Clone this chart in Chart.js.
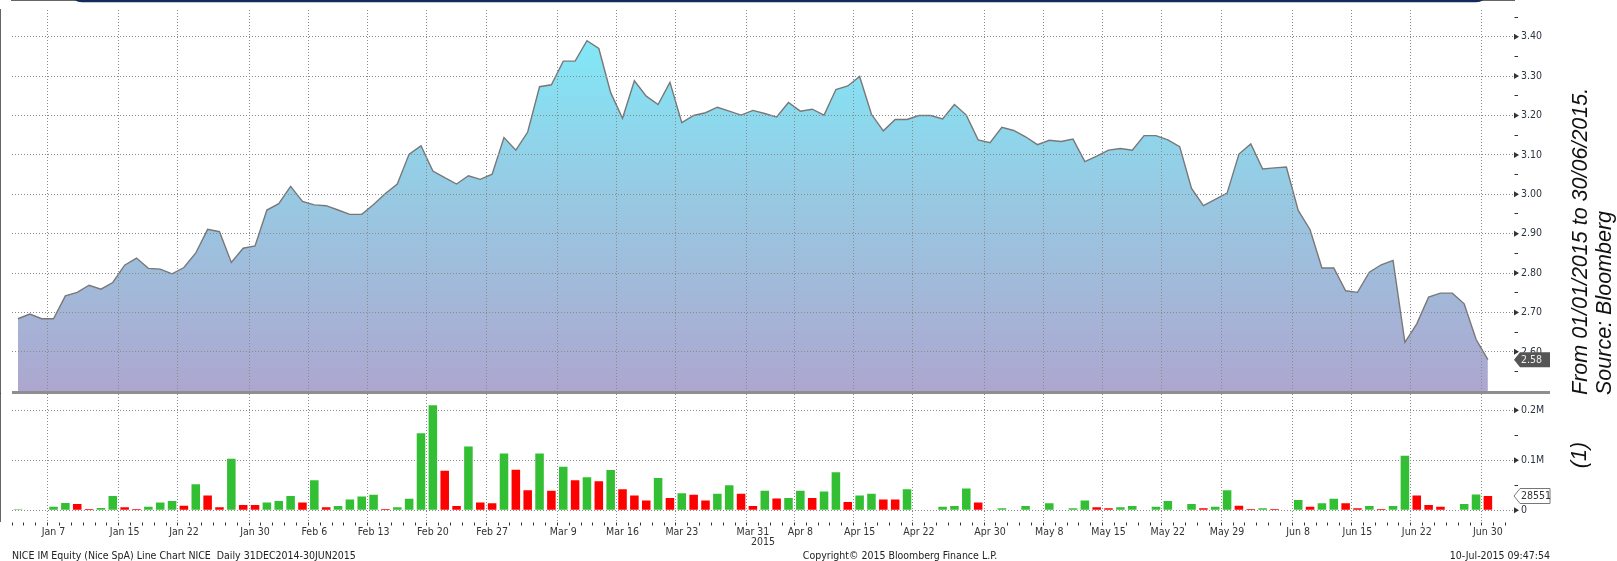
<!DOCTYPE html>
<html>
<head>
<meta charset="utf-8">
<script src="https://cdn.jsdelivr.net/npm/chart.js@4.4.1/dist/chart.umd.min.js"></script>
<style>
  html, body { margin: 0; padding: 0; background: #fff; }
  #wrap { width: 1617px; height: 561px; position: relative; }
</style>
</head>
<body>
<div id="wrap"><canvas id="niceChart" width="1617" height="561"></canvas></div>
<script>
// trading days of Borsa Italiana, 02 Jan 2015 - 30 Jun 2015
const tradingDays = [
  'Jan 2','Jan 5','Jan 6','Jan 7','Jan 8','Jan 9','Jan 12','Jan 13','Jan 14','Jan 15','Jan 16','Jan 19','Jan 20','Jan 21','Jan 22','Jan 23','Jan 26','Jan 27','Jan 28','Jan 29','Jan 30',
  'Feb 2','Feb 3','Feb 4','Feb 5','Feb 6','Feb 9','Feb 10','Feb 11','Feb 12','Feb 13','Feb 16','Feb 17','Feb 18','Feb 19','Feb 20','Feb 23','Feb 24','Feb 25','Feb 26','Feb 27',
  'Mar 2','Mar 3','Mar 4','Mar 5','Mar 6','Mar 9','Mar 10','Mar 11','Mar 12','Mar 13','Mar 16','Mar 17','Mar 18','Mar 19','Mar 20','Mar 23','Mar 24','Mar 25','Mar 26','Mar 27','Mar 30','Mar 31',
  'Apr 1','Apr 2','Apr 7','Apr 8','Apr 9','Apr 10','Apr 13','Apr 14','Apr 15','Apr 16','Apr 17','Apr 20','Apr 21','Apr 22','Apr 23','Apr 24','Apr 27','Apr 28','Apr 29','Apr 30',
  'May 4','May 5','May 6','May 7','May 8','May 11','May 12','May 13','May 14','May 15','May 18','May 19','May 20','May 21','May 22','May 25','May 26','May 27','May 28','May 29',
  'Jun 1','Jun 2','Jun 3','Jun 4','Jun 5','Jun 8','Jun 9','Jun 10','Jun 11','Jun 12','Jun 15','Jun 16','Jun 17','Jun 18','Jun 19','Jun 22','Jun 23','Jun 24','Jun 25','Jun 26','Jun 29','Jun 30'
];

// dates that get a label + vertical grid line
const tickDates = ['Jan 7','Jan 15','Jan 22','Jan 30','Feb 6','Feb 13','Feb 20','Feb 27','Mar 9','Mar 16','Mar 23','Mar 31',
  'Apr 8','Apr 15','Apr 22','Apr 30','May 8','May 15','May 22','May 29','Jun 8','Jun 15','Jun 22','Jun 30'];

// close price (EUR)
const closePrice = [
  2.684,2.696,2.684,2.684,2.742,2.751,2.769,2.759,2.776,2.820,
  2.838,2.812,2.810,2.798,2.814,2.851,2.911,2.905,2.827,2.863,
  2.869,2.960,2.976,3.020,2.982,2.973,2.971,2.960,2.949,2.949,
  2.974,3.002,3.026,3.102,3.123,3.059,3.042,3.026,3.047,3.038,
  3.051,3.144,3.112,3.158,3.273,3.278,3.338,3.338,3.390,3.370,
  3.258,3.193,3.288,3.249,3.228,3.284,3.182,3.200,3.207,3.221,
  3.211,3.201,3.213,3.205,3.196,3.233,3.211,3.216,3.201,3.266,
  3.275,3.299,3.203,3.161,3.190,3.190,3.200,3.200,3.191,3.228,
  3.201,3.138,3.131,3.170,3.162,3.146,3.126,3.137,3.134,3.140,
  3.083,3.097,3.112,3.116,3.112,3.149,3.149,3.138,3.121,3.015,
  2.971,2.987,3.003,3.102,3.128,3.064,3.067,3.069,2.959,2.910,
  2.813,2.813,2.755,2.751,2.802,2.821,2.832,2.624,2.671,2.739,
  2.749,2.749,2.722,2.632,2.580
];

// daily volume (shares)
const volume = [
  2000,1000,1000,7300,14500,12500,2600,4600,28400,5900,
  2600,7300,15800,18500,9200,52100,29700,5900,103000,10600,
  10600,15800,18500,28400,15800,60000,5900,8600,21800,27700,
  31000,2600,5900,23100,153800,210000,79200,8600,127400,15800,
  13900,113500,81200,40300,113500,39000,87100,60000,66000,58100,
  80500,42200,29700,19800,64700,24400,34300,31000,19800,33000,
  50200,33000,8600,39000,23800,24400,39000,24400,37600,75900,
  16500,29700,33000,21800,21800,42200,1000,0,7300,8600,
  43600,15800,1000,4000,1000,8600,1000,13900,1000,4000,
  19800,5900,4000,5900,8600,1000,7300,18500,1000,12500,
  4000,7300,40300,9200,2600,4000,2600,1000,20500,7300,
  13900,23100,13900,4000,8600,2600,8600,109000,29700,10600,
  7300,1000,12500,31700,28551
];

// g = up day, r = down day
const volumeSide = ('grrggrrggr' + 'rgggrgrrgr' + 'rgggrgrggg' + 'grggggrrgr' + 'rgrrgrgrgr' +
  'grrrgrgrrg' + 'grrgrggrgg' + 'rggrrgrggg' + 'grrgrgrgrg' + 'grrggrggrg' +
  'rggrrgrrgr' + 'ggrrgrggrr' + 'rrggr').split('');

const priceTicks = [2.55,2.60,2.65,2.70,2.75,2.80,2.85,2.90,2.95,3.00,3.05,3.10,3.15,3.20,3.25,3.30,3.35,3.40,3.45];
const volumeTicks = [0, 50000, 100000, 150000, 200000];
const volumeTickLabels = ['0', '', '0.1M', '', '0.2M'];

const smallFont = '"DejaVu Sans Condensed", "DejaVu Sans", sans-serif';
const smallSize = 10.5;
const gridColor = '#8a8a8a';
const gridDash = [1, 2];
const axisColor = '#333333';
const isMajorPrice = v => Math.round(v * 100) % 10 === 0;
const isMajorVol = v => volumeTickLabels[volumeTicks.indexOf(v)] !== '';

const decorations = {
  id: 'decorations',
  afterDraw(chart) {
    const {ctx, chartArea, scales} = chart;
    const x = scales.x, yP = scales.yPrice, yV = scales.yVol;
    ctx.save();

    // header frame edge at the very top
    ctx.strokeStyle = '#142a5c';
    ctx.lineWidth = 2.5;
    ctx.beginPath();
    ctx.roundRect(70, -40, 1418, 41, 12);
    ctx.stroke();

    // separator between price and volume panels
    ctx.strokeStyle = '#8e8e8e';
    ctx.lineWidth = 3;
    ctx.beginPath();
    ctx.moveTo(chartArea.left, yP.bottom - 1.5);
    ctx.lineTo(1550, yP.bottom - 1.5);
    ctx.stroke();

    // triangle markers on the major y ticks
    ctx.fillStyle = axisColor;
    const tri = (py) => {
      ctx.beginPath();
      ctx.moveTo(chartArea.right, py - 3);
      ctx.lineTo(chartArea.right + 5, py);
      ctx.lineTo(chartArea.right, py + 3);
      ctx.closePath();
      ctx.fill();
    };
    priceTicks.filter(isMajorPrice).forEach(v => tri(yP.getPixelForValue(v)));
    volumeTicks.filter(isMajorVol).forEach(v => tri(yV.getPixelForValue(v)));

    // last value tags
    const tag = (py, text, fill, stroke, color) => {
      const l = chartArea.right;
      ctx.beginPath();
      ctx.moveTo(l, py);
      ctx.lineTo(l + 6, py - 7.5);
      ctx.lineTo(1550, py - 7.5);
      ctx.lineTo(1550, py + 7.5);
      ctx.lineTo(l + 6, py + 7.5);
      ctx.closePath();
      ctx.fillStyle = fill;
      ctx.fill();
      if (stroke) { ctx.strokeStyle = stroke; ctx.lineWidth = 1; ctx.stroke(); }
      ctx.fillStyle = color;
      ctx.font = smallSize + 'px ' + smallFont;
      ctx.textAlign = 'left';
      ctx.textBaseline = 'middle';
      ctx.fillText(text, l + 7, py + 0.5);
    };
    const lastPrice = closePrice[closePrice.length - 1];
    const lastVolume = volume[volume.length - 1];
    tag(yP.getPixelForValue(lastPrice), lastPrice.toFixed(2), '#555555', null, '#eeeeee');
    tag(yV.getPixelForValue(lastVolume), String(lastVolume), '#ffffff', '#777777', '#333333');

    // year under Mar 31
    ctx.fillStyle = '#333';
    ctx.font = smallSize + 'px ' + smallFont;
    ctx.textAlign = 'center';
    ctx.textBaseline = 'middle';
    ctx.fillText('2015', x.getPixelForValue(tradingDays.indexOf('Mar 31')) + 10, 542);

    // footer
    ctx.fillStyle = '#222';
    ctx.textAlign = 'left';
    ctx.fillText('NICE IM Equity (Nice SpA) Line Chart NICE  Daily 31DEC2014-30JUN2015', 12, 556);
    ctx.textAlign = 'center';
    ctx.fillText('Copyright\u00a9 2015 Bloomberg Finance L.P.', 900, 556);
    ctx.textAlign = 'right';
    ctx.fillText('10-Jul-2015 09:47:54', 1550, 556);

    // rotated source note
    ctx.fillStyle = '#111';
    ctx.font = 'italic 21.5px "Liberation Sans", Arial, sans-serif';
    ctx.textBaseline = 'alphabetic';
    ctx.save();
    ctx.translate(1587, 395);
    ctx.rotate(-Math.PI / 2);
    ctx.textAlign = 'left';
    ctx.fillText('From 01/01/2015 to 30/06/2015.', 0, 0);
    ctx.fillText('Source: Bloomberg', 0, 24);
    ctx.restore();
    ctx.save();
    ctx.translate(1586, 455);
    ctx.rotate(-Math.PI / 2);
    ctx.textAlign = 'center';
    ctx.fillText('(1)', 0, 0);
    ctx.restore();

    ctx.restore();
  }
};

const ctx = document.getElementById('niceChart').getContext('2d');
new Chart(ctx, {
  data: {
    datasets: [{
      type: 'line',
      label: 'Close',
      data: closePrice.map((v, i) => ({x: i, y: v})),
      xAxisID: 'x',
      yAxisID: 'yPrice',
      borderColor: '#787878',
      borderWidth: 1.4,
      pointRadius: 0,
      tension: 0,
      fill: 'start',
      backgroundColor: (context) => {
        const {chart} = context;
        const s = chart.scales.yPrice;
        if (!chart.chartArea || !s) return 'rgba(150,200,230,0.8)';
        const g = chart.ctx.createLinearGradient(0, s.top, 0, s.bottom);
        g.addColorStop(0, '#7deefb');
        g.addColorStop(0.5, '#98c8e2');
        g.addColorStop(1, '#ada6cf');
        return g;
      }
    }, {
      type: 'bar',
      label: 'Volume',
      data: volume.map((v, i) => ({x: i, y: v})),
      xAxisID: 'x',
      yAxisID: 'yVol',
      backgroundColor: volumeSide.map(s => s === 'g' ? '#33bf33' : '#ff0000'),
      borderWidth: 0
    }]
  },
  options: {
    responsive: false,
    devicePixelRatio: 1,
    animation: false,
    layout: { padding: { left: 12, top: 10, right: 63, bottom: 0 } },
    plugins: { legend: { display: false }, tooltip: { enabled: false } },
    scales: {
      x: {
        type: 'linear',
        position: 'bottom',
        bounds: 'data',
        min: 0,
        max: 125.7,
        afterBuildTicks: (scale) => {
          scale.ticks = Array.from({length: 126}, (_, i) => ({value: i}));
        },
        afterFit: (scale) => { scale.height = 39.5; },
        ticks: {
          autoSkip: false,
          maxRotation: 0,
          padding: 0,
          color: '#333',
          font: { family: smallFont, size: smallSize },
          callback: (value) => tickDates.includes(tradingDays[value]) ? tradingDays[value] : ''
        },
        grid: {
          z: 1,
          color: (c) => c.tick && tickDates.includes(tradingDays[c.tick.value]) ? gridColor : 'rgba(0,0,0,0)',
          lineWidth: 1,
          tickLength: 4,
          tickColor: axisColor,
          tickWidth: 1
        },
        border: { color: axisColor, width: 1.5, dash: gridDash }
      },
      yPrice: {
        type: 'linear',
        position: 'right',
        stack: 'panels',
        stackWeight: 3.01,
        bounds: 'data',
        min: 2.4931,
        max: 3.4678,
        afterBuildTicks: (scale) => { scale.ticks = priceTicks.map(v => ({value: v})); },
        afterFit: (scale) => { scale.width = 40; },
        ticks: {
          autoSkip: false,
          padding: 3,
          color: '#2c3440',
          font: { family: smallFont, size: smallSize },
          callback: (v) => isMajorPrice(v) ? v.toFixed(2) : ''
        },
        grid: {
          z: 1,
          color: (c) => c.tick && isMajorPrice(c.tick.value) ? gridColor : 'rgba(0,0,0,0)',
          tickLength: 4,
          tickColor: axisColor
        },
        border: { color: axisColor, width: 1.5, dash: gridDash }
      },
      yVol: {
        type: 'linear',
        position: 'right',
        stack: 'panels',
        stackWeight: 1,
        bounds: 'data',
        min: -22400,
        max: 232600,
        afterBuildTicks: (scale) => { scale.ticks = volumeTicks.map(v => ({value: v})); },
        afterFit: (scale) => { scale.width = 40; },
        ticks: {
          autoSkip: false,
          padding: 3,
          color: '#2c3440',
          font: { family: smallFont, size: smallSize },
          callback: (v) => volumeTickLabels[volumeTicks.indexOf(v)]
        },
        grid: {
          z: 1,
          color: (c) => c.tick && isMajorVol(c.tick.value) ? gridColor : 'rgba(0,0,0,0)',
          tickLength: 4,
          tickColor: axisColor
        },
        border: { color: axisColor, width: 1.5, dash: gridDash }
      }
    }
  },
  plugins: [decorations]
});
</script>
</body>
</html>
